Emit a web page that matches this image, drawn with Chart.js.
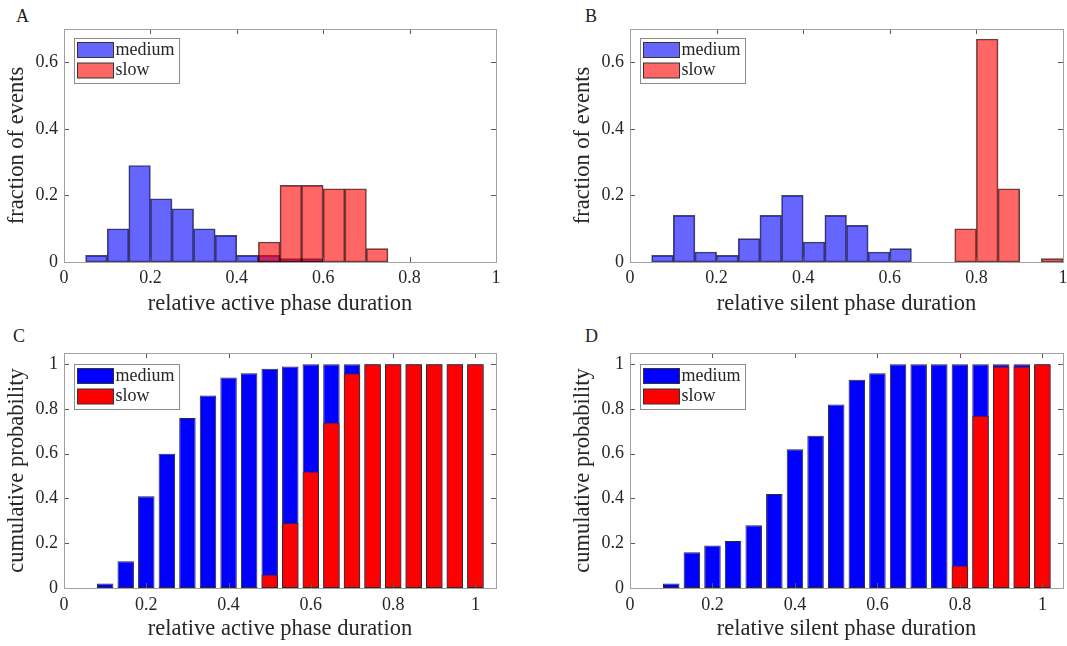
<!DOCTYPE html>
<html><head><meta charset="utf-8">
<script src="https://cdn.jsdelivr.net/npm/chart.js@4/dist/chart.umd.min.js"></script>
<style>
html,body{margin:0;padding:0;background:#fff;}
body{width:1067px;height:646px;position:relative;overflow:hidden;}
.wrap{position:absolute;}
.wrap canvas{display:block;}
.plabel{position:absolute;font-family:'Liberation Serif',serif;font-size:18px;line-height:18px;color:#222;}
</style></head>
<body>
<div class="plabel" style="left:16px;top:7px">A</div>
<div class="plabel" style="left:585px;top:7px">B</div>
<div class="plabel" style="left:13px;top:327px">C</div>
<div class="plabel" style="left:585px;top:327px">D</div>
<div class="wrap" style="left:0;top:0;width:533px;height:323px"><canvas id="cA"></canvas></div>
<div class="wrap" style="left:566px;top:0;width:520px;height:323px"><canvas id="cB"></canvas></div>
<div class="wrap" style="left:0;top:323px;width:533px;height:323px"><canvas id="cC"></canvas></div>
<div class="wrap" style="left:566px;top:323px;width:520px;height:323px"><canvas id="cD"></canvas></div>
<script>
// ---------- data ----------
const seriesNames = ['medium', 'slow'];
const xTickValues = [0, 0.2, 0.4, 0.6, 0.8, 1];
const histYTicks = [0, 0.2, 0.4, 0.6];
const cumYTicks = [0, 0.2, 0.4, 0.6, 0.8, 1];

// Panel A: histogram of relative active phase duration (bin width 0.05, bin centers)
const activeMediumBins = [0.075, 0.125, 0.175, 0.225, 0.275, 0.325, 0.375, 0.425, 0.475, 0.525, 0.575];
const activeMediumFrac = [0.02, 0.10, 0.29, 0.19, 0.16, 0.10, 0.08, 0.02, 0.02, 0.01, 0.01];
const activeSlowBins = [0.475, 0.525, 0.575, 0.625, 0.675, 0.725];
const activeSlowFrac = [0.06, 0.23, 0.23, 0.22, 0.22, 0.04];

// Panel B: histogram of relative silent phase duration
const silentMediumBins = [0.075, 0.125, 0.175, 0.225, 0.275, 0.325, 0.375, 0.425, 0.475, 0.525, 0.575, 0.625];
const silentMediumFrac = [0.02, 0.14, 0.03, 0.02, 0.07, 0.14, 0.20, 0.06, 0.14, 0.11, 0.03, 0.04];
const silentSlowBins = [0.775, 0.825, 0.875, 0.975];
const silentSlowFrac = [0.10, 0.67, 0.22, 0.01];

// Panels C, D: cumulative probability at bin right edges
const cumPositions = [0.1, 0.15, 0.2, 0.25, 0.3, 0.35, 0.4, 0.45, 0.5, 0.55, 0.6, 0.65, 0.7, 0.75, 0.8, 0.85, 0.9, 0.95, 1.0];
const activeMediumCum = [0.02, 0.12, 0.41, 0.60, 0.76, 0.86, 0.94, 0.96, 0.98, 0.99, 1, 1, 1, 1, 1, 1, 1, 1, 1];
const activeSlowCum   = [0, 0, 0, 0, 0, 0, 0, 0, 0.06, 0.29, 0.52, 0.74, 0.96, 1, 1, 1, 1, 1, 1];
const silentMediumCum = [0.02, 0.16, 0.19, 0.21, 0.28, 0.42, 0.62, 0.68, 0.82, 0.93, 0.96, 1, 1, 1, 1, 1, 1, 1, 1];
const silentSlowCum   = [0, 0, 0, 0, 0, 0, 0, 0, 0, 0, 0, 0, 0, 0, 0.10, 0.77, 0.99, 0.99, 1.0];

// ---------- helpers ----------
const FONT = "'Liberation Serif', serif";
const TXT = '#262626';
const pts = (xs, ys) => xs.map((x, i) => ({x: x, y: ys[i]})).filter(p => p.y > 0);
const fmt = v => String(Math.round(v * 10) / 10);

const frameTicks = {
  id: 'frameTicks',
  afterDatasetsDraw(chart) {
    const {ctx, chartArea: a, scales} = chart;
    ctx.save();
    ctx.lineWidth = 1;
    ctx.strokeStyle = '#5a5a5a';
    const L = 5;
    ctx.beginPath();
    scales.x.ticks.forEach(t => {
      const px = Math.round(scales.x.getPixelForValue(t.value)) + 0.5;
      ctx.moveTo(px, a.bottom); ctx.lineTo(px, a.bottom - L);
      ctx.moveTo(px, a.top); ctx.lineTo(px, a.top + L);
    });
    scales.y.ticks.forEach(t => {
      const py = Math.round(scales.y.getPixelForValue(t.value)) + 0.5;
      ctx.moveTo(a.left, py); ctx.lineTo(a.left + L, py);
      ctx.moveTo(a.right, py); ctx.lineTo(a.right - L, py);
    });
    ctx.stroke();
    ctx.strokeStyle = '#a0a0a0';
    ctx.strokeRect(Math.round(a.left) + 0.5, Math.round(a.top) + 0.5, Math.round(a.right - a.left), Math.round(a.bottom - a.top));
    ctx.restore();
  }
};

const boxLegend = {
  id: 'boxLegend',
  afterDraw(chart, args, opts) {
    const {ctx, chartArea: a} = chart;
    const x0 = Math.round(a.left) + 10.5, y0 = Math.round(a.top) + opts.dy + 0.5;
    const w = 105, h = 45;
    ctx.save();
    ctx.fillStyle = '#fff';
    ctx.fillRect(x0, y0, w, h);
    ctx.strokeStyle = '#8c8c8c';
    ctx.lineWidth = 1;
    ctx.strokeRect(x0, y0, w, h);
    chart.data.datasets.forEach((ds, i) => {
      const sy = y0 + 4 + i * 20.5;
      ctx.fillStyle = '#fff';
      ctx.fillRect(x0 + 3, sy, 36, 15);
      ctx.fillStyle = ds.backgroundColor;
      ctx.fillRect(x0 + 3, sy, 36, 15);
      ctx.strokeStyle = '#333';
      ctx.strokeRect(x0 + 3, sy, 36, 15);
      ctx.fillStyle = TXT;
      ctx.font = "18px " + FONT;
      ctx.textBaseline = 'middle';
      ctx.textAlign = 'left';
      ctx.fillText(ds.label, x0 + 41, sy + 7.5);
    });
    ctx.restore();
  }
};

function makePanel(id, cfg) {
  new Chart(document.getElementById(id), {
    type: 'bar',
    data: {
      datasets: [
        {label: seriesNames[0], data: cfg.medium, backgroundColor: cfg.colors[0], borderColor: cfg.edge,
         borderWidth: 1, borderSkipped: false, grouped: false, order: 1,
         barPercentage: cfg.barPct, categoryPercentage: 1},
        {label: seriesNames[1], data: cfg.slow, backgroundColor: cfg.colors[1], borderColor: cfg.edge,
         borderWidth: 1, borderSkipped: false, grouped: false, order: 0,
         barPercentage: cfg.barPct, categoryPercentage: 1}
      ]
    },
    options: {
      responsive: false,
      maintainAspectRatio: false,
      animation: false,
      devicePixelRatio: 1,
      layout: {padding: {left: 0, top: cfg.padTop, right: cfg.padRight, bottom: 0}},
      plugins: {legend: {display: false}, tooltip: {enabled: false}, boxLegend: {dy: cfg.legendDy}},
      scales: {
        x: {
          type: 'linear', position: 'bottom', offset: false,
          min: 0, max: cfg.xMax,
          afterFit: s => { s.height = cfg.xAxisH; },
          afterBuildTicks: s => { s.ticks = xTickValues.map(v => ({value: v})); },
          grid: {display: false, drawTicks: false},
          border: {display: false},
          ticks: {callback: fmt, padding: cfg.xTickPad, maxRotation: 0, autoSkip: false,
                  color: TXT, font: {family: FONT, size: 18}},
          title: {display: true, text: cfg.xTitle, color: TXT, font: {family: FONT, size: 22.5},
                  padding: {top: 0, bottom: cfg.xTitlePad}}
        },
        y: {
          type: 'linear', position: 'left',
          min: 0, max: cfg.yMax,
          afterFit: s => { s.width = 64; },
          afterBuildTicks: s => { s.ticks = cfg.yTicks.map(v => ({value: v})); },
          grid: {display: false, drawTicks: false},
          border: {display: false},
          ticks: {callback: fmt, padding: 6, color: TXT, font: {family: FONT, size: 18}},
          title: {display: true, text: cfg.yTitle, color: TXT, font: {family: FONT, size: 22.5},
                  padding: {top: 3.5, bottom: 0}}
        }
      }
    },
    plugins: [frameTicks, boxLegend]
  });
}

const histColors = ['rgba(0,0,255,0.6)', 'rgba(255,0,0,0.6)'];
const cumColors = ['#0000ff', '#ff0000'];

function sizeCanvas(id, w, h) { const c = document.getElementById(id); c.width = w; c.height = h; c.style.width = w + 'px'; c.style.height = h + 'px'; }
sizeCanvas('cA', 533, 323); sizeCanvas('cB', 520, 323); sizeCanvas('cC', 533, 323); sizeCanvas('cD', 520, 323);

makePanel('cA', {medium: pts(activeMediumBins, activeMediumFrac), slow: pts(activeSlowBins, activeSlowFrac),
  colors: histColors, edge: 'rgba(0,0,0,0.7)', barPct: 1, xMax: 1, yMax: 0.7, yTicks: histYTicks,
  padTop: 29, padRight: 37, xAxisH: 61, xTickPad: 5, xTitlePad: 5.5, legendDy: 9,
  xTitle: 'relative active phase duration', yTitle: 'fraction of events'});
makePanel('cB', {medium: pts(silentMediumBins, silentMediumFrac), slow: pts(silentSlowBins, silentSlowFrac),
  colors: histColors, edge: 'rgba(0,0,0,0.7)', barPct: 1, xMax: 1, yMax: 0.7, yTicks: histYTicks,
  padTop: 29, padRight: 23, xAxisH: 61, xTickPad: 5, xTitlePad: 5.5, legendDy: 9,
  xTitle: 'relative silent phase duration', yTitle: 'fraction of events'});
makePanel('cC', {medium: pts(cumPositions, activeMediumCum), slow: pts(cumPositions, activeSlowCum),
  colors: cumColors, edge: '#2a2a2a', barPct: 0.8, xMax: 1.05, yMax: 1.05, yTicks: cumYTicks,
  padTop: 30, padRight: 37, xAxisH: 58, xTickPad: 6, xTitlePad: 3, legendDy: 11,
  xTitle: 'relative active phase duration', yTitle: 'cumulative probability'});
makePanel('cD', {medium: pts(cumPositions, silentMediumCum), slow: pts(cumPositions, silentSlowCum),
  colors: cumColors, edge: '#2a2a2a', barPct: 0.8, xMax: 1.05, yMax: 1.05, yTicks: cumYTicks,
  padTop: 30, padRight: 23, xAxisH: 58, xTickPad: 6, xTitlePad: 3, legendDy: 11,
  xTitle: 'relative silent phase duration', yTitle: 'cumulative probability'});
</script>
</body></html>
